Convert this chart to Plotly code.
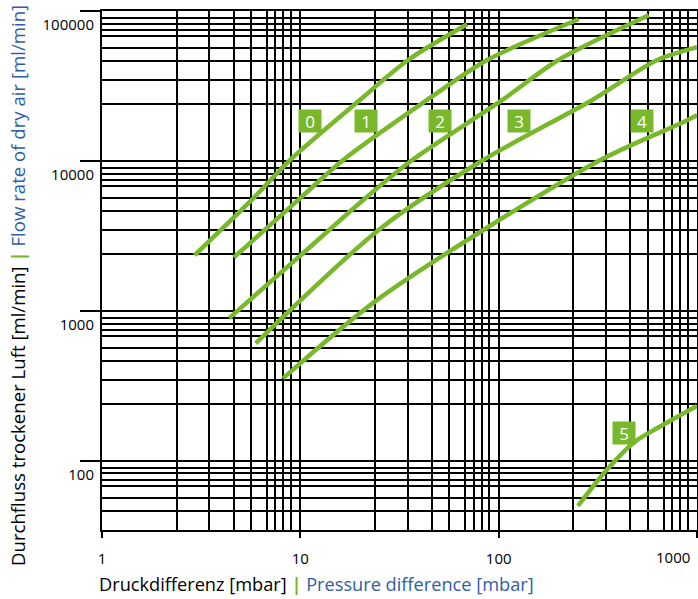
import numpy as np
import plotly.graph_objects as go

GREEN = "#78b82a"
BLUE = "#2f5ea8"
FONT = "Open Sans"

# curve data: pressure difference [mbar] / flow [ml/min]
curve_names = ["0", "1", "2", "3", "4", "5"]

p0 = [2.93, 5.67, 8.84, 19.9, 34.8, 69.3]
q0 = [2350, 5470, 10100, 25400, 46900, 81500]

p1 = [4.62, 9.73, 16.4, 43.4, 87.1, 253]
q1 = [2270, 5470, 10100, 25400, 46900, 88100]

p2 = [4.38, 9.93, 20.7, 36.5, 104, 199, 571]
q2 = [894, 2317, 5470, 10100, 25400, 46900, 93600]

p3 = [5.96, 25.1, 83.1, 295, 627, 1000]
q3 = [607, 3505, 10100, 25400, 46900, 57300]

p4 = [8.18, 25.1, 324, 819, 1000]
q4 = [354, 1216, 10100, 17700, 20200]

p5 = [251, 350, 486, 625, 1000]
q5 = [49.9, 86.7, 134, 164, 232]

label_p = [11.2, 21.5, 50.8, 126, 530, 428]
label_q = [18400, 18400, 18400, 18400, 18400, 154]

x_ticks = [1, 10, 100, 1000]
x_ticktext = ["1", "10", "100", ""]
y_ticks = [100, 1000, 10000, 100000]
y_ticktext = ["100", "1000", "10000", "100000"]

# the printed log paper has its own (not quite logarithmic) sub-lines
grid_steps = [2.38, 3.48, 4.62, 5.64, 6.8, 7.48, 8.22, 8.97]

x_minor = [m * 10 ** k for k in range(0, 3) for m in grid_steps]
y_minor = [m * 10 ** k for k in range(1, 5) for m in grid_steps]

fig = go.Figure()
for p, q in [(p0, q0), (p1, q1), (p2, q2), (p3, q3), (p4, q4), (p5, q5)]:
    fig.add_trace(go.Scatter(x=p, y=q, mode="lines",
                             line=dict(color=GREEN, width=4.5, shape="spline", smoothing=0.8),
                             showlegend=False, hoverinfo="skip"))

for name, lx, ly in zip(curve_names, label_p, label_q):
    fig.add_annotation(x=np.log10(lx), y=np.log10(ly), text=name, showarrow=False,
                       bgcolor=GREEN, width=22, height=22, borderpad=0,
                       font=dict(family=FONT, size=17, color="white"))

# last x label sits inside the page instead of centred on the edge
fig.add_annotation(x=1, y=0, xref="paper", yref="paper", text="1000", showarrow=False,
                   xanchor="right", yanchor="middle", xshift=-5, yshift=-27,
                   font=dict(family=FONT, size=15, color="black"))

fig.add_annotation(xref="paper", yref="paper", x=-0.0084, y=-0.104,
                   xanchor="left", yanchor="middle", showarrow=False,
                   text=("Druckdifferenz [mbar] <span style='color:%s'><b>|</b></span> "
                         "<span style='color:%s'>Pressure difference [mbar]</span>") % (GREEN, BLUE),
                   font=dict(family=FONT, size=18.2, color="black"))

fig.add_annotation(xref="paper", yref="paper", x=-0.143, y=0.472, textangle=-90,
                   xanchor="center", yanchor="middle", showarrow=False,
                   text=("Durchfluss trockener Luft [ml/min] <span style='color:%s'><b>|</b></span> "
                         "<span style='color:%s'>Flow rate of dry air [ml/min]</span>") % (GREEN, BLUE),
                   font=dict(family=FONT, size=18.6, color="black"))

axis_common = dict(type="log", showline=True, linecolor="black", linewidth=2, mirror=True,
                   showgrid=True, gridcolor="black", gridwidth=2, zeroline=False,
                   automargin=False,
                   ticks="outside", tickwidth=2, tickcolor="black", tickmode="array",
                   tickfont=dict(family=FONT, size=15, color="black"))

fig.update_xaxes(range=[0, 3], tickvals=x_ticks, ticktext=x_ticktext, ticklen=6,
                 ticklabelstandoff=8,
                 minor=dict(tickmode="array", tickvals=x_minor, showgrid=True,
                            gridcolor="black", gridwidth=2, ticks=""),
                 **axis_common)
fig.update_yaxes(range=[np.log10(34.5), 5], tickvals=y_ticks, ticktext=y_ticktext, ticklen=20,
                 ticklabelstandoff=-17, ticklabelshift=14,
                 minor=dict(tickmode="array", tickvals=y_minor, showgrid=True,
                            gridcolor="black", gridwidth=2, ticks=""),
                 **axis_common)

fig.update_layout(width=698, height=599, margin=dict(l=102, r=1, t=11, b=69),
                  plot_bgcolor="white", paper_bgcolor="white",
                  font=dict(family=FONT, color="black"))

# drop the browser's default 8px body margin so the figure fills the window
fig.write_html("out.html", config={"displayModeBar": False},
               post_script="document.body.style.margin='0';")
